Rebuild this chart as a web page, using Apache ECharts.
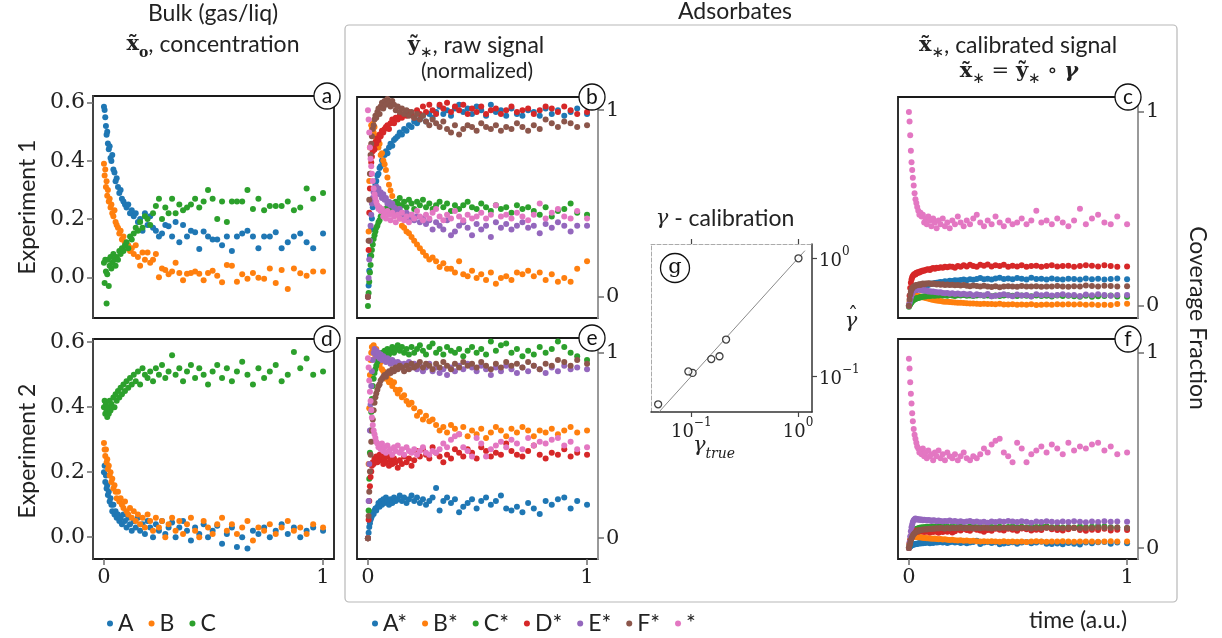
<!DOCTYPE html>
<html><head><meta charset="utf-8">
<script src="https://cdn.jsdelivr.net/npm/echarts@6/dist/echarts.min.js"></script>
<style>html,body{margin:0;padding:0;background:#fff}#chart{width:1222px;height:638px}</style>
</head><body><div id="chart"></div>
<script>
// ---------- data ----------
const time = [0.000,0.003,0.006,0.009,0.012,0.015,0.018,0.022,0.026,0.030,0.034,0.038,0.043,0.048,0.053,0.058,0.064,0.070,0.076,0.082,0.089,0.096,0.103,0.111,0.119,0.127,0.136,0.145,0.155,0.165,0.176,0.187,0.199,0.211,0.224,0.237,0.251,0.265,0.280,0.295,0.311,0.327,0.344,0.361,0.379,0.397,0.416,0.435,0.455,0.475,0.496,0.517,0.539,0.561,0.584,0.607,0.631,0.655,0.680,0.705,0.731,0.757,0.784,0.811,0.839,0.867,0.896,0.925,0.955,1.000];

const bulkNames = ['A','B','C'];
const species = ['A*','B*','C*','D*','E*','F*','*'];

// Experiment 1 bulk concentration
const bulkA1 = [0.586,0.575,0.55,0.52,0.49,0.50,0.46,0.44,0.45,0.41,0.40,0.42,0.37,0.36,0.33,0.34,0.31,0.29,0.30,0.27,0.26,0.25,0.24,0.25,0.22,0.23,0.21,0.22,0.19,0.20,0.16,0.22,0.18,0.21,0.17,0.16,0.14,0.15,0.18,0.175,0.14,0.19,0.12,0.18,0.14,0.16,0.155,0.097,0.157,0.14,0.13,0.13,0.11,0.14,0.09,0.14,0.15,0.16,0.14,0.10,0.14,0.14,0.155,0.10,0.12,0.14,0.15,0.12,0.10,0.15];
const bulkB1 = [0.39,0.35,0.37,0.31,0.33,0.28,0.30,0.26,0.27,0.24,0.25,0.22,0.21,0.23,0.19,0.18,0.17,0.15,0.16,0.13,0.14,0.12,0.10,0.11,0.09,0.10,0.08,0.11,0.07,0.04,0.085,0.06,0.085,0.05,0.06,0.08,0.00,0.03,0.025,0.01,0.02,0.05,0.015,-0.01,0.012,0.015,0.02,0.012,-0.01,0.015,0.022,0.005,-0.017,0.042,0.04,-0.015,0.01,-0.005,0.015,-0.002,-0.005,0.03,-0.02,0.025,-0.04,0.03,0.014,0.005,0.02,0.02];
const bulkC1 = [0.05,-0.02,0.06,0.02,-0.09,0.01,0.06,-0.03,0.04,0.07,0.03,0.05,0.08,0.06,0.04,0.07,0.06,0.09,0.08,0.10,0.09,0.11,0.12,0.10,0.14,0.13,0.15,0.17,0.16,0.19,0.17,0.21,0.20,0.18,0.22,0.245,0.27,0.20,0.24,0.22,0.27,0.22,0.25,0.23,0.24,0.25,0.27,0.24,0.26,0.30,0.27,0.20,0.26,0.19,0.26,0.26,0.26,0.30,0.235,0.27,0.23,0.245,0.245,0.245,0.26,0.23,0.24,0.305,0.27,0.29];
// Experiment 2 bulk concentration
const bulkA2 = [0.20,0.22,0.17,0.19,0.15,0.16,0.13,0.14,0.11,0.12,0.10,0.08,0.10,0.07,0.08,0.06,0.07,0.05,0.06,0.04,0.07,0.05,0.03,0.06,0.04,0.02,0.05,0.03,0.06,0.02,0.04,0.01,0.05,0.03,0.00,0.04,0.02,0.05,0.01,0.03,0.045,0.00,0.03,0.05,0.02,-0.01,0.03,0.01,0.04,0.00,0.02,0.035,-0.02,0.01,0.03,-0.03,0.00,-0.035,0.02,0.01,0.03,0.00,0.02,0.04,0.01,0.03,0.00,0.02,0.03,0.02];
const bulkB2 = [0.29,0.27,0.25,0.27,0.23,0.24,0.21,0.22,0.19,0.20,0.17,0.18,0.15,0.16,0.14,0.12,0.14,0.11,0.12,0.10,0.09,0.11,0.08,0.07,0.09,0.06,0.08,0.05,0.07,0.04,0.06,0.03,0.07,0.05,0.02,0.06,0.03,0.05,0.00,0.04,0.06,0.02,0.05,0.01,0.04,0.06,0.02,0.00,0.05,0.03,0.01,0.04,0.06,0.02,0.04,0.01,0.03,0.05,-0.01,0.03,0.02,0.04,0.01,0.03,0.05,0.02,0.03,0.01,0.04,0.03];
const bulkC2 = [0.40,0.42,0.38,0.41,0.39,0.37,0.40,0.38,0.42,0.39,0.41,0.40,0.43,0.40,0.44,0.42,0.45,0.43,0.46,0.44,0.47,0.45,0.48,0.46,0.49,0.47,0.50,0.48,0.51,0.47,0.52,0.50,0.49,0.51,0.48,0.52,0.50,0.53,0.49,0.51,0.56,0.50,0.52,0.48,0.51,0.53,0.49,0.52,0.50,0.47,0.51,0.53,0.49,0.52,0.48,0.51,0.54,0.50,0.47,0.52,0.49,0.51,0.53,0.48,0.50,0.57,0.52,0.55,0.50,0.51];

// Experiment 1 raw (normalized) adsorbate signal
const rawA1 = [0.00,0.06,0.14,0.22,0.30,0.36,0.42,0.48,0.53,0.56,0.60,0.62,0.65,0.66,0.69,0.70,0.73,0.72,0.76,0.78,0.77,0.80,0.82,0.81,0.84,0.85,0.86,0.88,0.87,0.90,0.89,0.92,0.91,0.94,0.93,0.95,0.97,0.94,0.98,0.96,0.99,1.02,0.98,1.00,0.97,1.01,1.03,0.99,1.01,0.98,1.02,1.00,0.97,1.03,0.99,1.00,0.97,1.01,0.98,0.97,1.00,0.99,0.97,1.01,0.98,1.00,0.97,0.99,1.01,0.98];
const rawB1 = [0.00,0.35,0.62,0.80,0.88,0.92,0.90,0.93,0.88,0.91,0.86,0.84,0.86,0.80,0.82,0.76,0.77,0.73,0.71,0.68,0.64,0.60,0.57,0.54,0.50,0.48,0.44,0.42,0.38,0.37,0.35,0.34,0.32,0.30,0.28,0.26,0.24,0.22,0.20,0.21,0.19,0.16,0.18,0.15,0.15,0.13,0.19,0.12,0.11,0.14,0.10,0.12,0.09,0.13,0.07,0.10,0.11,0.09,0.13,0.12,0.14,0.11,0.13,0.09,0.12,0.08,0.10,0.08,0.15,0.19];
const rawC1 = [-0.05,0.02,0.08,0.13,0.17,0.22,0.25,0.28,0.31,0.33,0.35,0.37,0.38,0.40,0.41,0.43,0.44,0.46,0.45,0.47,0.48,0.47,0.49,0.50,0.48,0.51,0.50,0.53,0.49,0.51,0.48,0.52,0.50,0.47,0.51,0.49,0.52,0.48,0.50,0.47,0.49,0.51,0.48,0.50,0.46,0.49,0.47,0.49,0.51,0.48,0.47,0.50,0.48,0.46,0.49,0.47,0.48,0.45,0.49,0.47,0.48,0.46,0.44,0.48,0.43,0.46,0.47,0.50,0.45,0.44];
const rawD1 = [0.00,0.25,0.45,0.58,0.66,0.72,0.75,0.78,0.80,0.79,0.83,0.82,0.85,0.84,0.87,0.86,0.89,0.88,0.90,0.91,0.92,0.90,0.93,0.95,0.93,0.96,0.95,0.97,0.96,0.98,0.97,0.99,0.98,0.96,1.00,0.98,1.02,0.99,1.03,1.00,0.98,1.03,1.01,1.04,0.99,1.02,1.00,1.03,0.98,1.01,0.99,1.02,0.98,1.00,1.01,0.98,1.00,1.02,0.99,1.00,1.01,0.98,1.00,1.02,1.01,0.99,1.02,1.00,0.98,0.99];
const rawE1 = [0.00,0.10,0.20,0.30,0.38,0.44,0.50,0.53,0.56,0.58,0.57,0.59,0.56,0.58,0.55,0.56,0.53,0.55,0.52,0.53,0.50,0.51,0.49,0.50,0.48,0.47,0.46,0.47,0.45,0.44,0.45,0.42,0.44,0.41,0.43,0.40,0.42,0.39,0.41,0.36,0.40,0.38,0.36,0.41,0.33,0.35,0.38,0.40,0.37,0.33,0.39,0.36,0.38,0.32,0.40,0.37,0.39,0.36,0.38,0.40,0.37,0.38,0.34,0.39,0.37,0.40,0.38,0.35,0.38,0.38];
const rawF1 = [0.00,0.30,0.52,0.66,0.76,0.82,0.86,0.90,0.92,0.95,0.97,0.96,0.99,1.01,0.98,1.02,1.04,1.01,1.05,1.03,1.06,1.04,1.02,1.05,1.03,1.00,1.02,0.99,1.01,0.98,1.00,0.97,0.99,0.96,0.98,0.95,0.97,0.94,0.92,0.95,0.93,0.91,0.94,0.90,0.88,0.92,0.87,0.90,0.92,0.91,0.89,0.93,0.91,0.90,0.92,0.89,0.91,0.90,0.93,0.91,0.89,0.92,0.90,0.95,0.93,0.91,0.94,0.93,0.91,0.92];
const rawG1 = [1.00,0.95,0.88,0.80,0.74,0.70,0.66,0.62,0.58,0.55,0.53,0.51,0.49,0.47,0.48,0.46,0.47,0.43,0.45,0.42,0.46,0.44,0.41,0.45,0.43,0.40,0.44,0.42,0.45,0.41,0.43,0.40,0.44,0.42,0.46,0.43,0.41,0.44,0.42,0.45,0.47,0.43,0.41,0.44,0.42,0.46,0.43,0.41,0.44,0.42,0.43,0.45,0.42,0.44,0.49,0.43,0.44,0.42,0.45,0.43,0.41,0.44,0.50,0.42,0.45,0.47,0.43,0.42,0.46,0.42];

// Experiment 2 raw (normalized) adsorbate signal
const rawA2 = [0.00,0.03,0.06,0.08,0.10,0.11,0.12,0.14,0.13,0.15,0.16,0.15,0.17,0.19,0.17,0.20,0.18,0.21,0.19,0.22,0.20,0.18,0.21,0.19,0.22,0.20,0.21,0.23,0.20,0.22,0.19,0.21,0.23,0.20,0.22,0.19,0.21,0.18,0.20,0.22,0.27,0.15,0.20,0.22,0.19,0.21,0.14,0.17,0.19,0.21,0.16,0.20,0.22,0.18,0.20,0.23,0.16,0.15,0.17,0.14,0.19,0.16,0.13,0.20,0.18,0.21,0.22,0.16,0.20,0.18];
const rawB2 = [0.00,0.40,0.70,0.88,0.96,1.00,1.03,1.01,1.04,1.00,0.98,1.02,0.96,0.97,0.93,0.95,0.91,0.90,0.88,0.86,0.87,0.84,0.85,0.82,0.84,0.80,0.78,0.80,0.76,0.77,0.74,0.72,0.73,0.70,0.66,0.68,0.64,0.66,0.63,0.64,0.61,0.58,0.60,0.57,0.61,0.59,0.56,0.60,0.55,0.58,0.56,0.59,0.54,0.57,0.60,0.58,0.55,0.59,0.57,0.60,0.58,0.55,0.58,0.57,0.59,0.56,0.58,0.60,0.57,0.58];
const rawC2 = [0.00,0.15,0.32,0.46,0.58,0.68,0.75,0.82,0.86,0.89,0.91,0.93,0.95,0.96,0.98,0.97,1.00,0.99,1.01,1.00,1.02,0.99,1.01,1.03,1.00,1.02,1.04,1.01,1.03,1.00,1.02,0.99,1.03,1.00,1.02,1.04,1.01,0.99,1.03,1.05,1.00,1.02,0.99,1.03,1.01,1.00,1.02,0.98,1.01,1.03,1.00,1.02,0.99,1.06,1.01,1.04,1.05,1.00,1.02,0.98,1.01,0.99,1.03,1.00,1.02,1.06,1.03,1.00,0.98,0.96];
const rawD2 = [0.00,0.10,0.20,0.28,0.33,0.36,0.39,0.41,0.40,0.43,0.42,0.44,0.41,0.43,0.45,0.42,0.44,0.40,0.43,0.41,0.44,0.39,0.42,0.40,0.43,0.41,0.38,0.42,0.40,0.44,0.41,0.43,0.39,0.42,0.47,0.44,0.48,0.45,0.43,0.49,0.46,0.44,0.41,0.45,0.43,0.48,0.46,0.44,0.48,0.46,0.43,0.49,0.47,0.44,0.46,0.45,0.51,0.47,0.45,0.44,0.47,0.50,0.45,0.43,0.46,0.45,0.48,0.44,0.46,0.45];
const rawE2 = [0.00,0.20,0.40,0.58,0.72,0.82,0.90,0.96,1.00,1.02,0.99,1.01,0.98,1.00,0.97,0.99,0.96,0.98,0.97,0.95,0.97,0.96,0.94,0.96,0.95,0.93,0.95,0.94,0.92,0.94,0.93,0.95,0.92,0.94,0.91,0.93,0.90,0.92,0.94,0.90,0.92,0.89,0.91,0.88,0.92,0.90,0.93,0.91,0.94,0.92,0.90,0.93,0.91,0.88,0.92,0.90,0.93,0.91,0.89,0.92,0.90,0.93,0.91,0.89,0.92,0.90,0.93,0.91,0.92,0.91];
const rawF2 = [0.00,0.12,0.25,0.36,0.45,0.52,0.58,0.64,0.69,0.73,0.76,0.78,0.80,0.82,0.83,0.85,0.86,0.87,0.88,0.87,0.89,0.90,0.89,0.91,0.90,0.92,0.91,0.93,0.92,0.90,0.93,0.91,0.94,0.92,0.93,0.95,0.92,0.94,0.93,0.91,0.94,0.92,0.95,0.93,0.91,0.94,0.92,0.95,0.93,0.94,0.92,0.95,0.93,0.91,0.94,0.92,0.95,0.93,0.94,0.92,0.95,0.93,0.91,0.94,0.93,0.96,0.95,0.93,0.96,0.94];
const rawG2 = [0.97,0.92,0.85,0.79,0.74,0.69,0.65,0.61,0.58,0.56,0.54,0.52,0.51,0.49,0.50,0.48,0.51,0.47,0.49,0.46,0.50,0.47,0.48,0.45,0.49,0.47,0.50,0.46,0.48,0.45,0.49,0.47,0.46,0.48,0.45,0.47,0.49,0.46,0.45,0.47,0.46,0.48,0.51,0.49,0.53,0.55,0.56,0.49,0.47,0.44,0.54,0.51,0.44,0.48,0.50,0.52,0.49,0.53,0.51,0.48,0.54,0.50,0.52,0.51,0.53,0.54,0.50,0.52,0.48,0.49];

// calibration factors, order A*,B*,C*,D*,E*,F*,*
const gammaTrue = [0.154, 0.049, 0.103, 0.212, 0.184, 0.094, 1.01];
const gammaHat  = [0.140, 0.058, 0.107, 0.205, 0.148, 0.110, 1.00];
const identityLine = [0.05, 1.16];

// tick values
const bulkTicks = [0, 0.2, 0.4, 0.6];
const signalTicks = [0, 1];
const timeTicks = [0, 1];
const gammaTicks = [0.1, 1];

// ---------- styling / layout ----------
const colors = ['#1f77b4','#ff7f0e','#2ca02c','#d62728','#9467bd','#8c564b','#e377c2'];
const serif = 'DejaVu Serif';
const sans = 'Lato';
const ink = '#222';
const tickColor = '#6e6e6e';
const grids = [
  {left:93,  top:96,  width:241, height:222},
  {left:357, top:97,  width:241, height:221},
  {left:898, top:97,  width:240, height:221},
  {left:93,  top:339, width:241, height:220},
  {left:357, top:338, width:241, height:221},
  {left:898, top:339, width:240, height:220},
  {left:651, top:244, width:161, height:168}
];
const yRanges = [[-0.14,0.623],[-0.114,1.071],[-0.063,1.077],[-0.067,0.61],[-0.112,1.079],[-0.056,1.071]];

const exp1Raw = [rawA1,rawB1,rawC1,rawD1,rawE1,rawF1,rawG1];
const exp2Raw = [rawA2,rawB2,rawC2,rawD2,rawE2,rawF2,rawG2];
const exp1Bulk = [bulkA1,bulkB1,bulkC1];
const exp2Bulk = [bulkA2,bulkB2,bulkC2];

const pts = arr => time.map((t,i) => [t, arr[i]]);
// calibrated signal  x* = y* o gamma  (element-wise product with the read calibration factor)
const scaled = (arr,g) => time.map((t,i) => [t, arr[i]*g]);

function scatter(name, data, k, idx) {
  return {type:'scatter', name, data, xAxisIndex:idx, yAxisIndex:idx, symbol:'circle', symbolSize:6,
    itemStyle:{color:colors[k], opacity:1}, silent:true, animation:false, z:2};
}

const series = [];
exp1Bulk.forEach((a,k)=>series.push(scatter(bulkNames[k], pts(a), k, 0)));
exp1Raw.forEach((a,k)=>series.push(scatter(species[k], pts(a), k, 1)));
exp1Raw.forEach((a,k)=>series.push(scatter(species[k], scaled(a,gammaHat[k]), k, 2)));
exp2Bulk.forEach((a,k)=>series.push(scatter(bulkNames[k], pts(a), k, 3)));
exp2Raw.forEach((a,k)=>series.push(scatter(species[k], pts(a), k, 4)));
exp2Raw.forEach((a,k)=>series.push(scatter(species[k], scaled(a,gammaHat[k]), k, 5)));
series.push({type:'line', data:identityLine.map(v=>[v,v]), xAxisIndex:6, yAxisIndex:6, symbol:'none',
  lineStyle:{color:'#8a8a8a', width:1}, silent:true, animation:false, z:1});
series.push({type:'scatter', data:gammaTrue.map((g,i)=>[g,gammaHat[i]]), xAxisIndex:6, yAxisIndex:6,
  symbol:'circle', symbolSize:7, itemStyle:{color:'#fff', borderColor:'#111', borderWidth:1.3},
  silent:true, animation:false, z:3});

const labelStyle = {fontFamily:serif, fontSize:21, color:ink};
function xAxisFor(i, labelled) {
  return {type:'value', gridIndex:i, min:-0.05, max:1.05, position:'bottom',
    splitLine:{show:false}, axisLine:{show:false, onZero:false},
    axisTick:{show:labelled, customValues:timeTicks, length:6, lineStyle:{color:tickColor, width:1.5}},
    axisLabel:Object.assign({show:labelled, customValues:timeTicks, margin:8, formatter:v=>String(Math.round(v))}, labelStyle)};
}
function yAxisFor(i, pos, ticks, fmt, lineColor) {
  return {type:'value', gridIndex:i, position:pos, min:yRanges[i][0], max:yRanges[i][1],
    splitLine:{show:false}, axisLine:{show:true, onZero:false, lineStyle:{color:lineColor, width:2}},
    axisTick:{show:true, customValues:ticks, length:6, lineStyle:{color:tickColor, width:1.5}},
    axisLabel:Object.assign({show:true, customValues:ticks, margin:8, formatter:fmt}, labelStyle,
      pos==='left' ? {fontSize:22} : {}), z:3};
}
const fmtBulk = v => v.toFixed(1);
const fmtSig = v => String(Math.round(v));
const powRich = {
  b:{fontFamily:serif, fontSize:18, color:ink, lineHeight:24, verticalAlign:'bottom'},
  s:{fontFamily:serif, fontSize:12, color:ink, lineHeight:12, verticalAlign:'top'}
};
const fmtPow = v => { const e = Math.round(Math.log10(v)); return '{b|10}{s|' + (e<0 ? '\u2212'+(-e) : e) + '}'; };

const xAxes = [xAxisFor(0,false), xAxisFor(1,false), xAxisFor(2,false), xAxisFor(3,true), xAxisFor(4,true), xAxisFor(5,true),
  {type:'log', logBase:10, gridIndex:6, position:'bottom', min:0.042, max:1.352, splitLine:{show:false},
   axisLine:{show:true, onZero:false, lineStyle:{color:'#333', width:1.5}},
   axisTick:{show:true, customValues:gammaTicks, length:5, lineStyle:{color:'#444', width:1.2}},
   axisLabel:{show:true, customValues:gammaTicks, margin:5, formatter:fmtPow, rich:powRich}, minorTick:{show:false}},
  {type:'log', logBase:10, gridIndex:6, position:'top', min:0.042, max:1.352, splitLine:{show:false},
   axisLine:{show:true, onZero:false, lineStyle:{color:'#aaa', width:1, type:'dashed'}},
   axisTick:{show:true, customValues:gammaTicks, length:5, lineStyle:{color:'#444', width:1.2}},
   axisLabel:{show:false}}
];
const yAxes = [yAxisFor(0,'left',bulkTicks,fmtBulk,'#444'), yAxisFor(1,'right',signalTicks,fmtSig,'#999'),
  yAxisFor(2,'right',signalTicks,fmtSig,'#999'), yAxisFor(3,'left',bulkTicks,fmtBulk,'#444'),
  yAxisFor(4,'right',signalTicks,fmtSig,'#999'), yAxisFor(5,'right',signalTicks,fmtSig,'#999'),
  {type:'log', logBase:10, gridIndex:6, position:'right', min:0.0499, max:1.321, splitLine:{show:false},
   axisLine:{show:true, onZero:false, lineStyle:{color:'#333', width:1.5}},
   axisTick:{show:true, customValues:gammaTicks, length:5, lineStyle:{color:'#444', width:1.2}},
   axisLabel:{show:true, customValues:gammaTicks, margin:7, formatter:fmtPow, rich:powRich}, minorTick:{show:false}},
  {type:'log', logBase:10, gridIndex:6, position:'left', min:0.0499, max:1.321, splitLine:{show:false},
   axisLine:{show:true, onZero:false, lineStyle:{color:'#aaa', width:1, type:'dashed'}},
   axisTick:{show:false}, axisLabel:{show:false}}
];

// ---------- annotations ----------
const R = {
  mb:{fontFamily:'DejaVu Serif', fontWeight:'bold', fontSize:21, lineHeight:30, fill:ink},
  sub:{fontFamily:'DejaVu Serif', fontWeight:'bold', fontSize:14, lineHeight:14, verticalAlign:'bottom', fill:ink},
  st:{fontFamily:'DejaVu Sans', fontSize:15, lineHeight:15, verticalAlign:'bottom', fill:ink},
  t:{fontFamily:sans, fontSize:23, lineHeight:30, fill:ink},
  op:{fontFamily:'DejaVu Serif', fontSize:21, lineHeight:30, fill:ink},
  gb:{fontFamily:'DejaVu Serif', fontWeight:'bold', fontStyle:'italic', fontSize:21, lineHeight:30, fill:ink},
  gi:{fontFamily:'DejaVu Serif', fontStyle:'italic', fontSize:21, lineHeight:30, fill:ink},
  si:{fontFamily:'DejaVu Serif', fontStyle:'italic', fontSize:14, lineHeight:14, verticalAlign:'bottom', fill:ink}
};
function txt(x, y, text, extra) {
  return Object.assign({type:'text', x, y, silent:true, z:20,
    style:{text, fill:ink, align:'center', verticalAlign:'middle', fontFamily:sans, fontSize:23, rich:R}}, extra||{});
}
function badge(letter, cx, cy, r, font) {
  return {type:'group', x:cx, y:cy, z:30, silent:true, children:[
    {type:'circle', shape:{cx:0, cy:0, r}, style:{fill:'#fff', stroke:'#111', lineWidth:1.3}, z:30},
    {type:'text', style:{text:letter, x:0, y:0, align:'center', verticalAlign:'middle', fontFamily:font, fontSize:21, fill:'#111'}, z:31}
  ]};
}
const graphics = [
  {type:'rect', shape:{x:345, y:25, width:832, height:577, r:4}, style:{fill:'none', stroke:'#b8b8b8', lineWidth:1.2}, z:0, silent:true},
  txt(213, 14, 'Bulk (gas/liq)'),
  txt(213, 45, '{mb|x\u0303}{sub|o}{t|, concentration}'),
  txt(735, 12, 'Adsorbates'),
  txt(476, 46, '{mb|\u1ef9}{st|\u2217}{t|, raw signal}'),
  txt(477, 71, '(normalized)', {style:{text:'(normalized)', fill:ink, align:'center', verticalAlign:'middle', fontFamily:sans, fontSize:21}}),
  txt(1018, 46, '{mb|x\u0303}{st|\u2217}{t|, calibrated signal}'),
  txt(1019, 72, '{mb|x\u0303}{st|\u2217}{op| = }{mb|\u1ef9}{st|\u2217}{op| \u2218 }{gb|\u03b3}'),
  txt(725, 219, '{gi|\u03b3}{t| - calibration}'),
  txt(851, 322, '{gi|\u03b3}'),
  txt(853, 317, '\u02c6', {style:{text:'\u02c6', fill:ink, align:'center', verticalAlign:'middle', fontFamily:'DejaVu Serif', fontSize:20}}),
  txt(714, 446, '{gi|\u03b3}{si|true}'),
  txt(28, 207, 'Experiment 1', {rotation:Math.PI/2}),
  txt(28, 451, 'Experiment 2', {rotation:Math.PI/2}),
  txt(1197, 318, 'Coverage Fraction', {rotation:-Math.PI/2}),
  txt(1078, 621, 'time (a.u.)'),
  badge('a', 327, 96, 13, sans), badge('b', 592, 97, 13, sans), badge('c', 1128, 97, 13, sans),
  badge('d', 327, 339, 13, sans), badge('e', 592, 338, 13, sans), badge('f', 1128, 339, 13, sans),
  badge('g', 675, 268, 14.5, serif)
];

const legendCommon = {orient:'horizontal', icon:'circle', itemWidth:6, itemHeight:6, selectedMode:false,
  textStyle:{fontFamily:sans, fontSize:23, color:ink}, top:607};

const chart = echarts.init(document.getElementById('chart'), null, {renderer:'canvas'});
chart.setOption({
  animation:false,
  backgroundColor:'#fff',
  grid: grids.map((g,i)=>Object.assign({show:i<6, borderColor:'#1a1a1a', borderWidth:1.8, backgroundColor:'transparent', containLabel:false, outerBoundsMode:'none'}, g)),
  xAxis: xAxes,
  yAxis: yAxes,
  legend: [Object.assign({data:bulkNames, left:102, itemGap:15}, legendCommon),
           Object.assign({data:species, left:367, itemGap:15}, legendCommon)],
  graphic: graphics,
  series
});
</script></body></html>
